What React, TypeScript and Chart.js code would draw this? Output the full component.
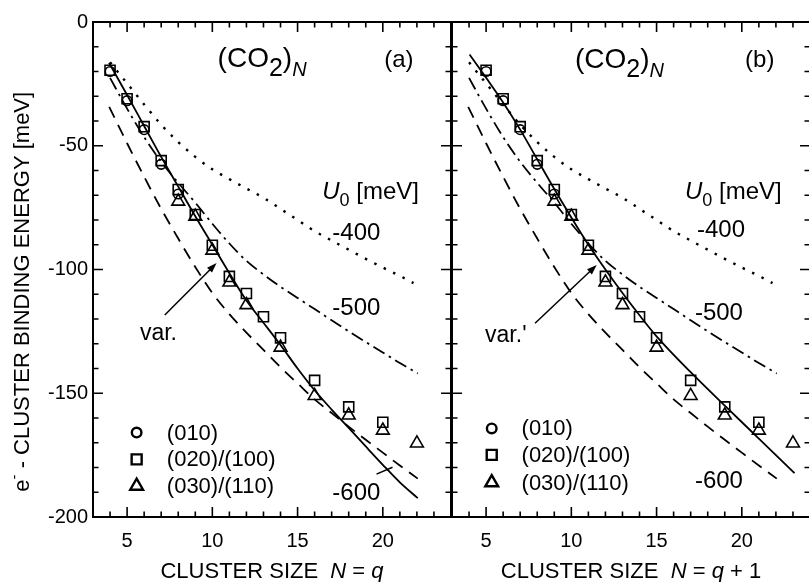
import React, { useEffect, useRef } from 'react';
import { Chart, registerables } from 'chart.js';

Chart.register(...registerables);

const FONT = '"Liberation Sans", Arial, Helvetica, sans-serif';

// ---- data (q = number of molecules in the vibrational picture; panel b plots N = q + 1)
const SQUARE_Q = [4, 5, 6, 7, 8, 9, 10, 11, 12, 13, 14, 16, 18, 20];
const SQUARE_E = [-19.5, -31, -42.3, -56, -67.7, -77.8, -90.2, -102.8, -109.7, -119.1, -127.6, -144.8, -155.5, -161.7];
const TRIANGLE_Q = [8, 9, 10, 11, 12, 14, 16, 18, 20, 22];
const TRIANGLE_E = [-72.5, -78.6, -92.3, -105.2, -114.3, -131.5, -151, -158.9, -165, -170.2];
const CIRCLE_Q = [4, 5, 6, 7, 8];
const CIRCLE_E = [-20, -31.8, -43.5, -57.5, -69.5];

// variational curves
const VAR_A_N = [3.94, 5, 6, 7, 8, 9, 10, 11, 12, 13, 14, 15, 16, 17, 18, 19, 20, 21, 22.05];
const VAR_A_E = [-16.5, -29.5, -42, -54.5, -66.5, -78.5, -90, -101.5, -112.5, -121.5, -130.5, -140, -148.8, -156.6, -164, -171.5, -178.9, -186, -192.4];
const VAR_B_N = [4.03, 5, 6, 7, 8, 9, 10, 11, 12, 13, 14, 15, 17, 19, 21, 23.09];
const VAR_B_E = [-13.1, -22.5, -32.5, -43.5, -55.5, -67.5, -79, -90, -100, -109.5, -118.5, -127, -141.5, -155, -168.3, -182.3];

// model curves for U0 = -400, -500, -600 meV
const U400_N = [4, 5, 6, 7, 8, 9, 10, 11, 12, 13, 14, 15, 16, 17, 18, 19, 20, 21, 21.8];
const U400_E = [-16.3, -24.8, -33.3, -41.5, -48.5, -54.5, -59.5, -63.5, -67.3, -71, -75.5, -80, -84.5, -88.3, -92, -95.7, -99.2, -102.6, -105.5];
const U500_N = [4, 5, 6, 7, 8, 9, 10, 11, 12, 13, 14, 15, 16, 17, 18, 19, 20, 21, 22.05];
const U500_E = [-22.6, -35, -46.5, -56.5, -65, -73, -81.5, -89.5, -96.5, -102, -107, -111.5, -116, -120.5, -125, -129.3, -133.5, -137.8, -142];
const U600_N = [3.95, 5, 6, 7, 8, 9, 10, 11, 12, 13, 14, 15, 16, 17, 18, 19, 20, 21, 22.05];
const U600_E = [-34.3, -49, -62.5, -75.5, -87.5, -99, -109.5, -118, -125.5, -132.5, -139.5, -146, -152.5, -158, -163.5, -168.8, -174, -179.2, -184.5];

const X_LABELS = [5, 10, 15, 20];
const Y_LABELS = [0, -50, -100, -150, -200];
const LEGEND_LABELS = ['(010)', '(020)/(100)', '(030)/(110)'];

type Part = { t: string; size: number; italic?: boolean; dy?: number };

function partsWidth(ctx: CanvasRenderingContext2D, parts: Part[]) {
  let w = 0;
  for (const p of parts) {
    ctx.font = `${p.italic ? 'italic ' : ''}${p.size}px ${FONT}`;
    w += ctx.measureText(p.t).width;
  }
  return w;
}

function drawParts(ctx: CanvasRenderingContext2D, x: number, y: number, parts: Part[], align: 'left' | 'center') {
  let cx = align === 'center' ? x - partsWidth(ctx, parts) / 2 : x;
  ctx.textAlign = 'left';
  ctx.textBaseline = 'alphabetic';
  for (const p of parts) {
    ctx.font = `${p.italic ? 'italic ' : ''}${p.size}px ${FONT}`;
    ctx.fillText(p.t, cx, y + (p.dy || 0));
    cx += ctx.measureText(p.t).width;
  }
}

function arrow(ctx: CanvasRenderingContext2D, x0: number, y0: number, x1: number, y1: number) {
  const a = Math.atan2(y1 - y0, x1 - x0);
  const L = 10, W = 3.5;
  ctx.beginPath();
  ctx.moveTo(x0, y0);
  ctx.lineTo(x1 - Math.cos(a) * L * 0.8, y1 - Math.sin(a) * L * 0.8);
  ctx.stroke();
  ctx.beginPath();
  ctx.moveTo(x1, y1);
  ctx.lineTo(x1 - Math.cos(a) * L - Math.sin(a) * W, y1 - Math.sin(a) * L + Math.cos(a) * W);
  ctx.lineTo(x1 - Math.cos(a) * L + Math.sin(a) * W, y1 - Math.sin(a) * L - Math.cos(a) * W);
  ctx.closePath();
  ctx.fill();
}

type PanelCfg = {
  id: 'a' | 'b';
  left: number;
  width: number;
  padLeft: number;
  padRight: number;
  shift: number;
  varN: number[];
  varE: number[];
  tag: string;
  varText: string;
  xTitle: Part[];
  pos: {
    co2: [number, number];
    tag: [number, number];
    u0: [number, number];
    l400: [number, number];
    l500: [number, number];
    l600: [number, number];
    varT: [number, number];
    arrowFrom: [number, number];
    arrowTo: [number, number];
    legendMarkX: number;
    legendTextX: number;
    legendY: number[];
    pointer?: [number, number, number, number];
  };
};

const PANELS: PanelCfg[] = [
  {
    id: 'a', left: 0, width: 460, padLeft: 0, padRight: 8, shift: 0,
    varN: VAR_A_N, varE: VAR_A_E, tag: '(a)', varText: 'var.',
    xTitle: [
      { t: 'CLUSTER SIZE  ', size: 22 }, { t: 'N', size: 22, italic: true },
      { t: ' = ', size: 22 }, { t: 'q', size: 22, italic: true },
    ],
    pos: {
      co2: [10.31, -18.2], tag: [20.08, -18.2], u0: [16.45, -71.5],
      l400: [17.04, -88.1], l500: [17.04, -118.4], l600: [17.04, -193.1],
      varT: [5.75, -128.5], arrowFrom: [7.21, -118.4], arrowTo: [10.25, -97.4],
      legendMarkX: 5.56, legendTextX: 7.33, legendY: [-165.9, -176.7, -187.5],
      pointer: [19.63, -182.7, 20.57, -179.9],
    },
  },
  {
    id: 'b', left: 440, width: 380, padLeft: 12, padRight: 10, shift: 1,
    varN: VAR_B_N, varE: VAR_B_E, tag: '(b)', varText: "var.'",
    xTitle: [
      { t: 'CLUSTER SIZE  ', size: 22 }, { t: 'N', size: 22, italic: true },
      { t: ' = ', size: 22 }, { t: 'q', size: 22, italic: true }, { t: ' + 1', size: 22 },
    ],
    pos: {
      co2: [10.21, -18.6], tag: [20.19, -18.2], u0: [16.67, -71.5],
      l400: [17.37, -86.9], l500: [17.25, -120.4], l600: [17.25, -188.3],
      varT: [4.94, -129.3], arrowFrom: [7.87, -121.7], arrowTo: [11.49, -98.2],
      legendMarkX: 5.33, legendTextX: 7.08, legendY: [-164.2, -174.9, -186.1],
    },
  },
];

function drawMarker(ctx: CanvasRenderingContext2D, kind: number, x: number, y: number) {
  ctx.beginPath();
  if (kind === 0) {
    ctx.arc(x, y, 4.8, 0, Math.PI * 2);
  } else if (kind === 1) {
    ctx.rect(x - 5, y - 5, 10, 10);
  } else {
    const r = 7.4;
    ctx.moveTo(x, y - r);
    ctx.lineTo(x + r * 0.866, y + r * 0.5);
    ctx.lineTo(x - r * 0.866, y + r * 0.5);
    ctx.closePath();
  }
  ctx.stroke();
}

function makeDecor(cfg: PanelCfg) {
  return {
    id: 'decor' + cfg.id,
    afterDraw(chart: any) {
      const ctx: CanvasRenderingContext2D = chart.ctx;
      const xs = chart.scales.x;
      const ys = chart.scales.y;
      const { left, right, top, bottom } = chart.chartArea;
      const X = (v: number) => xs.getPixelForValue(v);
      const Y = (v: number) => ys.getPixelForValue(v);
      ctx.save();
      ctx.strokeStyle = '#000';
      ctx.fillStyle = '#000';
      ctx.lineCap = 'butt';
      ctx.setLineDash([]);

      // inward ticks on all four sides
      ctx.lineWidth = 1.6;
      ctx.beginPath();
      for (const t of xs.ticks) {
        const px = X(t.value);
        const len = t.value % 5 === 0 ? 10 : 5.5;
        ctx.moveTo(px, bottom); ctx.lineTo(px, bottom - len);
        ctx.moveTo(px, top); ctx.lineTo(px, top + len);
      }
      for (const t of ys.ticks) {
        const py = Y(t.value);
        const len = t.value % 50 === 0 ? 10 : 5.5;
        ctx.moveTo(left, py); ctx.lineTo(left + len, py);
        ctx.moveTo(right, py); ctx.lineTo(right - len, py);
      }
      ctx.stroke();
      ctx.lineWidth = 2;
      ctx.strokeRect(left, top, right - left, bottom - top);

      const p = cfg.pos;
      drawParts(ctx, X(p.co2[0]), Y(p.co2[1]), [
        { t: '(CO', size: 28 }, { t: '2', size: 25, dy: 9 }, { t: ')', size: 28 },
        { t: 'N', size: 20, italic: true, dy: 9 },
      ], 'left');
      drawParts(ctx, X(p.tag[0]), Y(p.tag[1]), [{ t: cfg.tag, size: 24 }], 'left');
      drawParts(ctx, X(p.u0[0]), Y(p.u0[1]), [
        { t: 'U', size: 24, italic: true }, { t: '0', size: 18, dy: 7 }, { t: ' [meV]', size: 24 },
      ], 'left');
      drawParts(ctx, X(p.l400[0]), Y(p.l400[1]), [{ t: '-400', size: 24 }], 'left');
      drawParts(ctx, X(p.l500[0]), Y(p.l500[1]), [{ t: '-500', size: 24 }], 'left');
      drawParts(ctx, X(p.l600[0]), Y(p.l600[1]), [{ t: '-600', size: 24 }], 'left');
      drawParts(ctx, X(p.varT[0]), Y(p.varT[1]), [{ t: cfg.varText, size: 23 }], 'left');

      ctx.lineWidth = 1.5;
      arrow(ctx, X(p.arrowFrom[0]), Y(p.arrowFrom[1]), X(p.arrowTo[0]), Y(p.arrowTo[1]));
      if (p.pointer) {
        ctx.beginPath();
        ctx.moveTo(X(p.pointer[0]), Y(p.pointer[1]));
        ctx.lineTo(X(p.pointer[2]), Y(p.pointer[3]));
        ctx.stroke();
      }

      ctx.lineWidth = 2.4;
      LEGEND_LABELS.forEach((lab, i) => {
        const my = Y(p.legendY[i]);
        drawMarker(ctx, i, X(p.legendMarkX), my);
        ctx.font = `22px ${FONT}`;
        ctx.textAlign = 'left';
        ctx.textBaseline = 'middle';
        ctx.fillText(lab, X(p.legendTextX), my + 1);
      });

      drawParts(ctx, (left + right) / 2, bottom + 61, cfg.xTitle, 'center');
      if (cfg.id === 'a') {
        ctx.save();
        ctx.translate(left - 64.5, Y(-109));
        ctx.rotate(-Math.PI / 2);
        drawParts(ctx, 0, 0, [
          { t: 'e', size: 22 }, { t: '-', size: 15, dy: -10 },
          { t: ' - CLUSTER BINDING ENERGY [meV]', size: 22 },
        ], 'center');
        ctx.restore();
      }
      ctx.restore();
    },
  };
}

function xy(xsArr: number[], ysArr: number[], shift = 0) {
  return xsArr.map((x, i) => ({ x: x + shift, y: ysArr[i] }));
}

function Panel({ cfg }: { cfg: PanelCfg }) {
  const ref = useRef<HTMLCanvasElement | null>(null);
  useEffect(() => {
    if (!ref.current) return;
    const lineBase = {
      showLine: true, pointRadius: 0, borderColor: '#000', borderWidth: 1.8,
      cubicInterpolationMode: 'monotone' as const, fill: false,
    };
    const markBase = {
      showLine: false, borderColor: '#000', backgroundColor: 'rgba(0,0,0,0)',
      pointBackgroundColor: 'rgba(0,0,0,0)', pointBorderColor: '#000', pointBorderWidth: 1.6,
    };
    const chart = new Chart(ref.current, {
      type: 'scatter',
      data: {
        datasets: [
          { ...markBase, label: '(030)/(110)', data: xy(TRIANGLE_Q, TRIANGLE_E, cfg.shift), pointStyle: 'triangle', pointRadius: 7.4 },
          { ...markBase, label: '(020)/(100)', data: xy(SQUARE_Q, SQUARE_E, cfg.shift), pointStyle: 'rect', pointRadius: 7.1 },
          { ...markBase, label: '(010)', data: xy(CIRCLE_Q, CIRCLE_E, cfg.shift), pointStyle: 'circle', pointRadius: 4.8 },
          { ...lineBase, label: cfg.varText, data: xy(cfg.varN, cfg.varE) },
          { ...lineBase, label: '-400', data: xy(U400_N, U400_E), borderDash: [2.5, 8], borderWidth: 2.4 },
          { ...lineBase, label: '-500', data: xy(U500_N, U500_E), borderDash: [13, 5, 2.5, 5] },
          { ...lineBase, label: '-600', data: xy(U600_N, U600_E), borderDash: [12, 8] },
        ] as any,
      },
      options: {
        responsive: false,
        maintainAspectRatio: false,
        devicePixelRatio: 1,
        animation: false,
        events: [],
        layout: { padding: { left: cfg.padLeft, right: cfg.padRight, top: 22, bottom: 0 } },
        plugins: { legend: { display: false }, tooltip: { enabled: false } },
        scales: {
          x: {
            type: 'linear', min: 3, max: 24, position: 'bottom',
            grid: { display: false, drawTicks: false },
            border: { display: false },
            ticks: {
              stepSize: 1, autoSkip: false, maxRotation: 0, padding: 12, color: '#000',
              font: { family: FONT, size: 20 },
              callback: (v: any) => (X_LABELS.includes(Number(v)) ? String(v) : ''),
            },
            afterFit: (s: any) => { s.height = 65; s.paddingLeft = 0; s.paddingRight = 0; },
          },
          y: {
            type: 'linear', min: -200, max: 0, display: cfg.id === 'a',
            grid: { display: false, drawTicks: false },
            border: { display: false },
            ticks: {
              stepSize: 10, autoSkip: false, padding: 5, color: '#000',
              font: { family: FONT, size: 20 },
              callback: (v: any) => (Y_LABELS.includes(Number(v)) ? String(v) : ''),
            },
            afterFit: (s: any) => {
              s.width = cfg.id === 'a' ? 93 : 0;
              s.paddingTop = 0; s.paddingBottom = 0;
            },
          },
        },
      } as any,
      plugins: [makeDecor(cfg)],
    });
    return () => chart.destroy();
  }, [cfg]);
  return (
    <canvas
      ref={ref}
      width={cfg.width}
      height={582}
      style={{ position: 'absolute', left: cfg.left, top: 0, width: cfg.width, height: 582 }}
    />
  );
}

export default function App() {
  return (
    <div
      style={{
        position: 'fixed', left: 0, top: 0, width: 809, height: 582,
        overflow: 'hidden', background: '#fff',
      }}
    >
      {PANELS.map((c) => (
        <Panel key={c.id} cfg={c} />
      ))}
    </div>
  );
}
